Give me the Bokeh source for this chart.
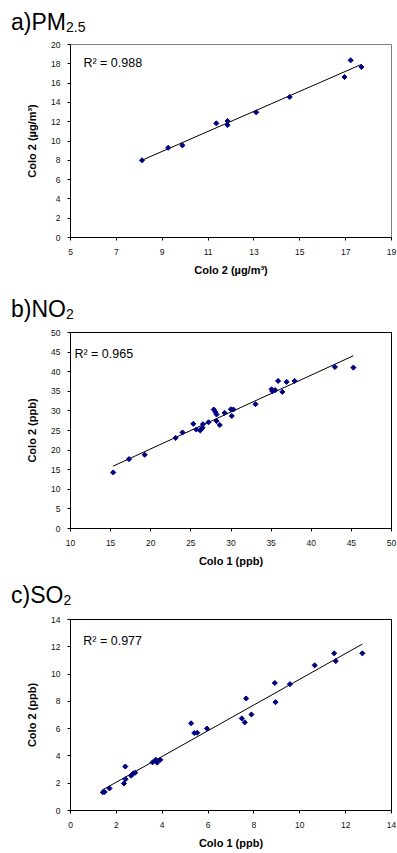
import numpy as np
from bokeh.plotting import figure
from bokeh.models import Range1d, FixedTicker, Label, ColumnDataSource, Div
from bokeh.layouts import column
from bokeh.embed import file_html
from bokeh.resources import INLINE

# ---------------- data ----------------
pm_colo1 = [8.12, 9.26, 9.88, 11.36, 11.85, 11.85, 13.10, 14.56, 16.95, 17.22, 17.69]
pm_colo2 = [8.00, 9.30, 9.55, 11.83, 12.07, 11.65, 12.97, 14.56, 16.63, 18.36, 17.67]
pm_r2 = "R² = 0.988"

no2_colo1 = [15.32, 17.29, 19.25, 23.10, 23.96, 25.30, 25.68, 26.17, 26.33, 26.45,
             26.50, 27.20, 27.85, 28.05, 28.20, 28.20, 28.60, 29.20, 29.98, 30.30,
             30.10, 33.05, 35.05, 35.17, 35.50, 35.87, 36.40, 36.93, 37.92, 42.95, 45.25]
no2_colo2 = [14.3, 17.7, 18.8, 23.1, 24.5, 26.7, 25.25, 25.0, 25.4, 25.7,
             26.6, 27.1, 30.35, 29.7, 29.1, 27.4, 26.4, 29.5, 30.4, 30.35,
             28.7, 31.7, 35.5, 35.0, 35.3, 37.65, 34.85, 37.4, 37.65, 41.2, 41.05]
no2_r2 = "R² = 0.965"

so2_colo1 = [1.41, 1.49, 1.70, 2.33, 2.39, 2.40, 2.64, 2.74, 2.82, 3.58, 3.72, 3.78,
             3.92, 5.26, 5.40, 5.53, 5.95, 7.47, 7.60, 7.66, 7.89, 8.91, 8.94, 9.57,
             10.65, 11.50, 11.57, 12.73]
so2_colo2 = [1.34, 1.36, 1.62, 1.98, 3.22, 2.29, 2.55, 2.72, 2.77, 3.53, 3.72, 3.51,
             3.72, 6.39, 5.68, 5.70, 6.01, 6.75, 6.46, 8.21, 7.04, 9.35, 7.94, 9.26,
             10.64, 11.52, 10.95, 11.52]
so2_r2 = "R² = 0.977"

pm_xticks = [5, 7, 9, 11, 13, 15, 17, 19]
pm_yticks = [0, 2, 4, 6, 8, 10, 12, 14, 16, 18, 20]
no2_xticks = [10, 15, 20, 25, 30, 35, 40, 45, 50]
no2_yticks = [0, 5, 10, 15, 20, 25, 30, 35, 40, 45, 50]
so2_xticks = [0, 2, 4, 6, 8, 10, 12, 14]
so2_yticks = [0, 2, 4, 6, 8, 10, 12, 14]

titles = [("a)PM", "2.5"), ("b)NO", "2"), ("c)SO", "2")]

FONT = "Liberation Sans"
MARK = "#000080"


def px2data(rng, span_px, off_px):
    return rng.start + off_px * (rng.end - rng.start) / span_px


def title_div(main, sub, h, pad_top, pad_left):
    html = ('<div style="margin:0;padding:%dpx 0 0 %dpx;font-family:\'Liberation Sans\';'
            'font-size:23px;line-height:1;color:black;white-space:nowrap">%s'
            '<span style="font-size:14px;position:relative;top:2px">%s</span></div>'
            % (pad_top, pad_left, main, sub))
    return Div(text=html, width=397, height=h, margin=0)


def panel(x, y, xticks, yticks, xlabel, ylabel, r2, geom, outline, r2_off):
    w, h, bl, br, bt, bb = geom
    fw, fh = w - bl - br, h - bt - bb
    xr = Range1d(xticks[0], xticks[-1])
    yr = Range1d(yticks[0], yticks[-1])
    p = figure(width=w, height=h, x_range=xr, y_range=yr, title=None,
               output_backend="svg", toolbar_location=None,
               min_border_left=bl, min_border_right=br,
               min_border_top=bt, min_border_bottom=bb, margin=0)
    p.background_fill_color = "white"
    p.border_fill_color = "white"
    p.outline_line_color = outline
    p.outline_line_width = 1
    p.grid.visible = False

    for ax, ticks in ((p.xaxis[0], xticks), (p.yaxis[0], yticks)):
        ax.ticker = FixedTicker(ticks=ticks)
        ax.minor_tick_line_color = None
        ax.major_tick_out = 3
        ax.major_tick_in = 0
        ax.axis_line_color = "black"
        ax.major_tick_line_color = "black"
        ax.major_label_text_font = FONT
        ax.major_label_text_font_size = "8.5px"
        ax.major_label_text_color = "#111111"
        ax.axis_label_text_font = FONT
        ax.axis_label_text_font_size = "11px"
        ax.axis_label_text_font_style = "bold"
        ax.axis_label_text_color = "black"
    p.xaxis.axis_label = xlabel
    p.yaxis.axis_label = ylabel
    p.xaxis.major_label_standoff = 8
    p.xaxis.axis_label_standoff = 6
    p.yaxis.major_label_standoff = 7
    p.yaxis.axis_label_standoff = 10

    # regression line (least-squares from the data)
    k, b = np.polyfit(x, y, 1)
    xs = [min(x), max(x)]
    p.line(xs, [k * v + b for v in xs], line_color="black", line_width=1)

    src = ColumnDataSource(dict(x=x, y=y))
    p.scatter("x", "y", source=src, marker="square", angle=np.pi / 4, size=3.6,
              fill_color=MARK, line_color=MARK)

    p.add_layout(Label(x=px2data(xr, fw, r2_off[0]), y=px2data(yr, fh, fh - r2_off[1]),
                       text=r2, text_font=FONT, text_font_size="12.5px",
                       text_color="black", text_baseline="alphabetic"))
    return p


da = title_div(titles[0][0], titles[0][1], 36, 11, 11)
pa = panel(pm_colo1, pm_colo2, pm_xticks, pm_yticks,
           "Colo 2 (µg/m³)", "Colo 2 (µg/m³)", pm_r2,
           (397, 249, 70, 4, 8, 48), "#808080", (13, 18))
db = title_div(titles[1][0], titles[1][1], 37, 13, 11)
pb = panel(no2_colo1, no2_colo2, no2_xticks, no2_yticks,
           "Colo 1 (ppb)", "Colo 2 (ppb)", no2_r2,
           (397, 248, 65, 6, 10, 42), "black", (4, 21))
dc = title_div(titles[2][0], titles[2][1], 40, 14, 11)
pc = panel(so2_colo1, so2_colo2, so2_xticks, so2_yticks,
           "Colo 1 (ppb)", "Colo 2 (ppb)", so2_r2,
           (397, 241, 65, 6, 9, 36), "black", (13, 22.5))

layout = column(da, pa, db, pb, dc, pc, spacing=0)
open("out.html", "w").write(file_html(layout, INLINE))
